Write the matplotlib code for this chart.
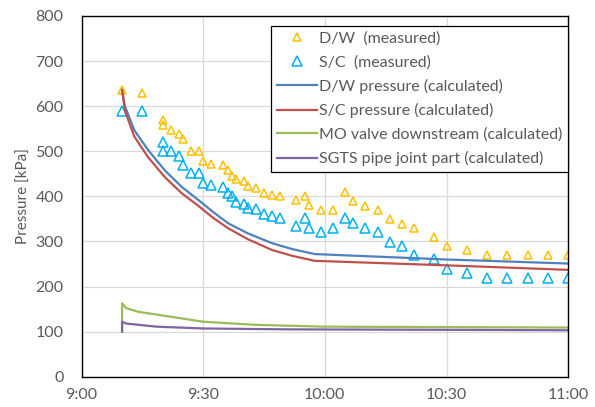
import matplotlib.pyplot as plt

plt.rcParams['font.family'] = ['Lato', 'DejaVu Sans']

# time in minutes after 9:00
dw_meas_t = [10, 15, 20, 20, 22, 24, 25, 27, 29, 30, 32, 35, 36, 37, 38, 40, 41, 43, 45, 47, 49,
             53, 55, 56, 59, 62, 65, 67, 70, 73, 76, 79, 82, 87, 90, 95, 100, 105, 110, 115, 120]
dw_meas_p = [636, 630, 570, 559, 548, 539, 528, 500, 500, 478, 472, 469, 459, 446, 438, 435, 423,
             419, 408, 404, 400, 393, 400, 380, 369, 369, 410, 389, 379, 369, 350, 339, 330, 309,
             290, 280, 270, 270, 270, 270, 270]

sc_meas_t = [10, 15, 20, 20, 22, 24, 25, 27, 29, 30, 32, 35, 36, 37, 38, 40, 41, 43, 45, 47, 49,
             53, 55, 56, 59, 62, 65, 67, 70, 73, 76, 79, 82, 87, 90, 95, 100, 105, 110, 115, 120]
sc_meas_p = [590, 590, 521, 500, 500, 489, 469, 451, 451, 429, 425, 420, 408, 401, 388, 384, 375,
             371, 360, 356, 351, 335, 352, 329, 322, 330, 351, 340, 330, 322, 299, 290, 270, 260,
             240, 229, 220, 220, 220, 220, 220]

calc_t = [10, 10.7, 13, 16.4, 20.5, 24.7, 28.8, 32.5, 36.2, 41, 47, 52, 57.5, 90, 120]
dw_calc_p = [636, 600, 547, 503, 458, 421, 392, 365, 340, 318, 296, 283, 272, 260, 251]
sc_calc_p = [636, 590, 533, 487, 443, 407, 379, 352, 329, 305, 281, 268, 257, 247, 237]

mo_t = [10, 10, 11, 14, 22, 30, 43, 60, 90, 120]
mo_p = [100, 163, 152, 144, 133, 122, 115, 111, 110, 109]

sgts_t = [10, 10, 11, 18.5, 30, 51.5, 90, 120]
sgts_p = [100, 122, 118, 111, 107, 105, 104, 103]

x_ticks = [0, 30, 60, 90, 120]
x_labels = ["9:00", "9:30", "10:00", "10:30", "11:00"]

fig = plt.figure(figsize=(5.95, 4.07), dpi=100)
ax = fig.add_axes([0.137, 0.0744, 0.818, 0.8863])

ax.plot(dw_meas_t, dw_meas_p, linestyle='none', marker='^', markersize=5.5,
        markerfacecolor='none', markeredgecolor='#FFC000', markeredgewidth=1.1,
        label="D/W  (measured)")
ax.plot(sc_meas_t, sc_meas_p, linestyle='none', marker='^', markersize=7.5,
        markerfacecolor='none', markeredgecolor='#00B0F0', markeredgewidth=1.1,
        label="S/C  (measured)")
ax.plot(calc_t, dw_calc_p, color='#4F81BD', linewidth=1.6, label="D/W pressure (calculated)")
ax.plot(calc_t, sc_calc_p, color='#C0504D', linewidth=1.6, label="S/C pressure (calculated)")
ax.plot(mo_t, mo_p, color='#9BBB59', linewidth=1.6, label="MO valve downstream (calculated)")
ax.plot(sgts_t, sgts_p, color='#8064A2', linewidth=1.6, label="SGTS pipe joint part (calculated)")

ax.set_xlim(0, 120)
ax.set_ylim(0, 800)
ax.set_xticks(x_ticks)
ax.set_xticklabels(x_labels)
ax.set_yticks(range(0, 801, 100))
ax.grid(True, color='#D9D9D9', linewidth=0.9)
ax.set_axisbelow(True)
ax.tick_params(axis='both', length=0, labelsize=11.5, labelcolor='#595959')
ax.tick_params(axis='y', pad=13)
ax.tick_params(axis='x', pad=8)
for s in ax.spines.values():
    s.set_color('black')
    s.set_linewidth(1.0)

ax.set_ylabel("Pressure [kPa]", fontsize=11, color='#595959')
ax.yaxis.set_label_coords(-0.105, 0.5)

leg = ax.legend(loc='upper right', bbox_to_anchor=(1.0, 0.972), fontsize=11.5,
                frameon=True, fancybox=False, framealpha=1, edgecolor='black',
                borderpad=0.35, labelspacing=0.58, handlelength=2.5, handletextpad=0.15,
                borderaxespad=0)
leg.get_frame().set_linewidth(0.9)
for t in leg.get_texts():
    t.set_color('#595959')

fig.savefig("out.png", dpi=100)
